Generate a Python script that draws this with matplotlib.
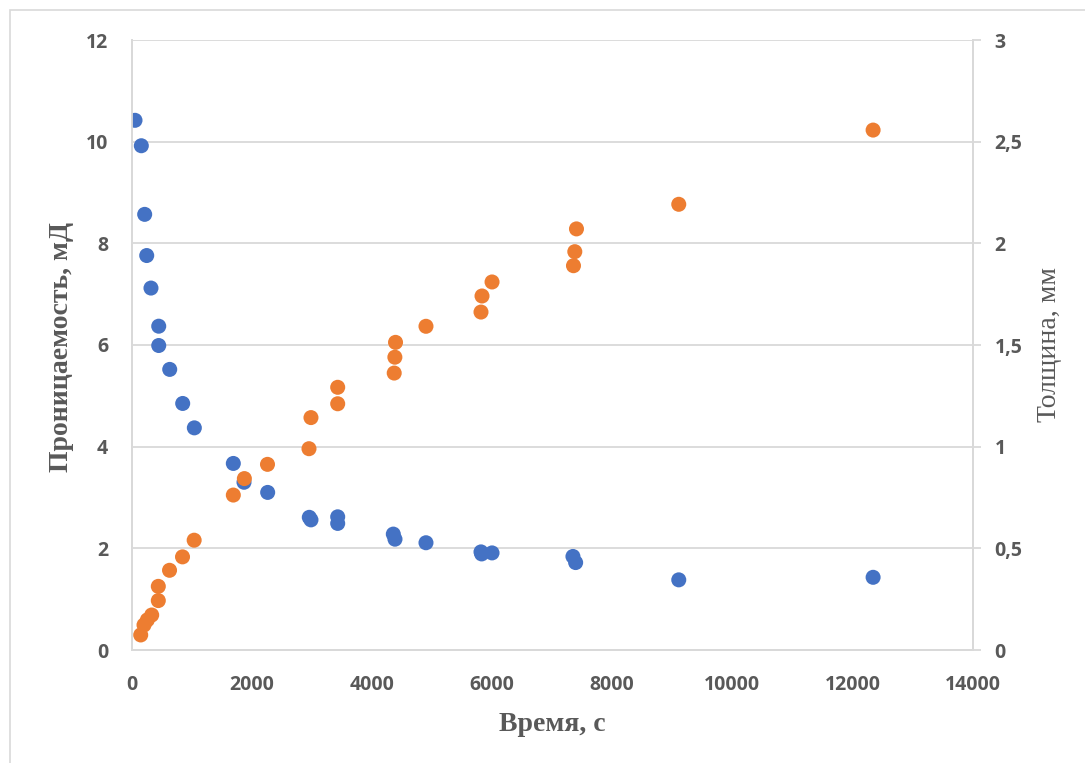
import matplotlib
matplotlib.use("Agg")
import matplotlib.pyplot as plt
from matplotlib.ticker import FuncFormatter, MultipleLocator
from matplotlib.patches import Rectangle

# permeability (left axis), mD
time_perm = [55, 160, 216, 250, 321, 450, 450, 633, 849, 1043, 1692, 1870, 2264,
             2957, 2985, 3430, 3430, 4356, 4384, 4900, 5816, 5827, 6000, 7347,
             7392, 9109, 12345]
perm = [10.42, 9.92, 8.57, 7.76, 7.12, 6.37, 5.99, 5.52, 4.85, 4.37, 3.67, 3.30,
        3.10, 2.61, 2.56, 2.62, 2.49, 2.28, 2.18, 2.11, 1.93, 1.89, 1.91, 1.84,
        1.72, 1.38, 1.43]

# thickness (right axis), mm
time_thick = [150, 205, 261, 333, 443, 443, 630, 846, 1040, 1692, 1876, 2261,
              2952, 2985, 3430, 3430, 4371, 4382, 4393, 4900, 5816, 5833, 6000,
              7356, 7378, 7406, 9109, 12345]
thick = [0.074, 0.123, 0.148, 0.172, 0.243, 0.313, 0.392, 0.458, 0.540, 0.762,
         0.843, 0.913, 0.99, 1.143, 1.211, 1.292, 1.362, 1.44, 1.513, 1.592,
         1.662, 1.741, 1.81, 1.89, 1.959, 2.071, 2.192, 2.557]

BLUE = "#4472C4"
ORANGE = "#ED7D31"
GRID = "#D9D9D9"
TXT = "#595959"
TICKFONT = dict(family="Open Sans", weight="bold", size=14)

fig = plt.figure(figsize=(10.85, 7.63), dpi=100)
fig.patches.append(Rectangle((10 / 1085, -0.1), 1.2, (763 - 10) / 763 + 0.1,
                             transform=fig.transFigure, fill=False,
                             edgecolor=GRID, linewidth=1.2))

ax = fig.add_axes([131.7 / 1085, 113 / 763, 840.8 / 1085, 610 / 763])
ax2 = ax.twinx()

ax.scatter(time_perm, perm, s=117, color=BLUE, edgecolors="none", zorder=3)
ax2.scatter(time_thick, thick, s=117, color=ORANGE, edgecolors="none", zorder=3)

ax.set_xlim(0, 14000)
ax.set_ylim(0, 12)
ax2.set_ylim(0, 3)
ax.xaxis.set_major_locator(MultipleLocator(2000))
ax.yaxis.set_major_locator(MultipleLocator(2))
ax2.yaxis.set_major_locator(MultipleLocator(0.5))
ax2.yaxis.set_major_formatter(FuncFormatter(lambda v, p: f"{v:g}".replace(".", ",")))

ax.grid(axis="y", color=GRID, linewidth=1.3)
ax.set_axisbelow(True)

for a in (ax, ax2):
    for side in ("top",):
        a.spines[side].set_visible(False)
    for side in ("left", "right", "bottom"):
        a.spines[side].set_color(GRID)
        a.spines[side].set_linewidth(1.3)

ax.tick_params(axis="x", length=0, pad=18, labelcolor=TXT)
ax.tick_params(axis="y", length=0, pad=17, labelcolor=TXT)
ax2.tick_params(axis="y", length=6, width=1.3, color=GRID, pad=10, labelcolor=TXT)
for lab in ax.get_xticklabels() + ax.get_yticklabels() + ax2.get_yticklabels():
    lab.set_fontproperties(TICKFONT)

ax.set_xlabel("Время, с", family="Liberation Serif", weight="bold", size=20,
              color=TXT, labelpad=12)
fig.text(62 / 1085, 1 - 347 / 763, "Проницаемость, мД", family="Liberation Serif",
         weight="bold", size=20, color=TXT, rotation=90, ha="center", va="center")
fig.text(1050 / 1085, 1 - 344 / 763, "Толщина, мм", family="Liberation Serif",
         size=20, color=TXT, rotation=90, ha="center", va="center")

fig.savefig("out.png", dpi=100)
